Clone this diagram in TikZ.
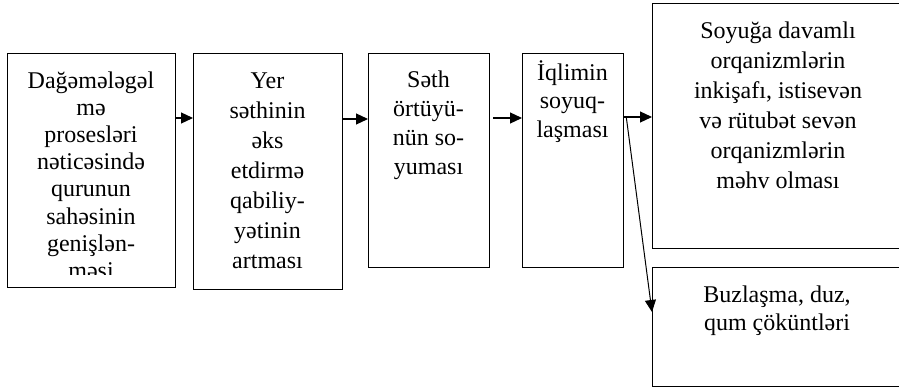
\documentclass[tikz,border=0pt]{standalone}
\usepackage{fontspec}
\setmainfont{Liberation Serif}
\usetikzlibrary{arrows.meta,calc}
\begin{document}
\begin{tikzpicture}[x=1pt,y=-1pt,
  box/.style={draw,line width=1.4pt,anchor=north west,inner sep=0pt},
  conn/.style={line width=1.2pt,-{Triangle[length=12pt,width=11pt]}},
  lbl/.style={anchor=base,inner sep=0pt}]
\useasboundingbox (0,0) rectangle (899,388);
\node[box,minimum width=168pt,minimum height=234pt] (b1) at (7,53) {};
\node[box,minimum width=149pt,minimum height=236pt] (b2) at (193,53) {};
\node[box,minimum width=121pt,minimum height=214pt] (b3) at (368,53) {};
\node[box,minimum width=101pt,minimum height=214pt] (b4) at (522,53) {};
\node[box,minimum width=260pt,minimum height=245pt] (b5) at (652,3) {};
\node[box,minimum width=260pt,minimum height=119pt] (b6) at (652,267) {};
\begin{scope}
\clip ($(b1.north west)+(1,1)$) rectangle ($(b1.south east)+(-1,-14)$);
\node[lbl,font=\fontsize{24}{27.2}\selectfont] (t1) at (91,88) {\parbox[t]{166pt}{\centering Dağəmələgəl\\mə\\prosesləri\\nəticəsində\\qurunun\\sahəsinin\\genişlən-\\məsi}};
\end{scope}
\node[lbl,font=\fontsize{24}{30}\selectfont] (t2) at (267.5,88) {\parbox[t]{147pt}{\centering Yer\\səthinin\\əks\\etdirmə\\qabiliy-\\yətinin\\artması}};
\node[lbl,font=\fontsize{24}{29}\selectfont] (t3) at (428.5,87) {\parbox[t]{120pt}{\centering Səth\\örtüyü-\\nün so-\\yuması}};
\node[lbl,font=\fontsize{24}{28.5}\selectfont] (t4) at (572.5,80) {\parbox[t]{100pt}{\centering İqlimin\\soyuq-\\laşması}};
\node[lbl,font=\fontsize{24}{30}\selectfont] (t5) at (778,38) {\parbox[t]{240pt}{\centering Soyuğa davamlı\\orqanizmlərin\\inkişafı, istisevən\\və rütubət sevən\\orqanizmlərin\\məhv olması}};
\node[lbl,font=\fontsize{24}{28}\selectfont] (t6) at (777,302) {\parbox[t]{240pt}{\centering Buzlaşma, duz,\\qum çöküntləri}};
\draw[conn] ($(b1.north east)+(0,65)$) -- ($(b2.north west)+(0,65)$);
\draw[conn] ($(b2.north east)+(0,66)$) -- ($(b3.north west)+(0,66)$);
\draw[conn] ($(b3.north east)+(3,65)$) -- ($(b4.north west)+(0,65)$);
\draw[conn] ($(b4.north east)+(0,64)$) -- ($(b5.north west)+(0,114)$);
\draw[conn,line width=1pt] ($(b4.north east)+(2,65)$) -- ($(b6.north west)+(0,45)$);
\end{tikzpicture}
\end{document}
